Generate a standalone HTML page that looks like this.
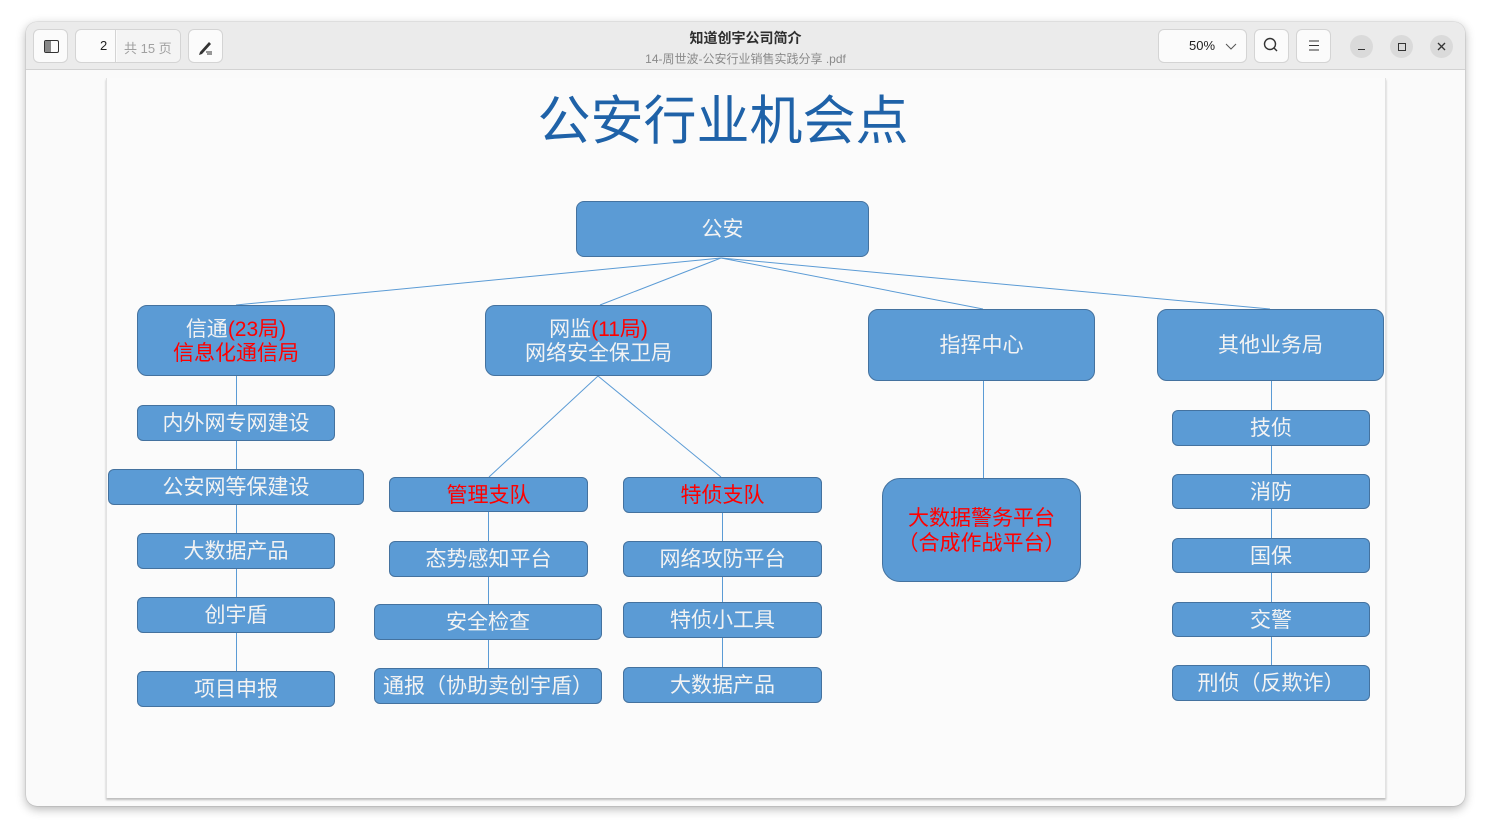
<!DOCTYPE html>
<html><head><meta charset="utf-8">
<style>
*{margin:0;padding:0;box-sizing:border-box;}
html,body{width:1491px;height:835px;background:#ffffff;overflow:hidden;font-family:"Liberation Sans","Noto Sans CJK SC",sans-serif;}
.win{position:absolute;left:26px;top:22px;width:1439px;height:784px;border-radius:11px;background:#fafafa;box-shadow:0 3px 10px rgba(0,0,0,0.3),0 0 1px rgba(0,0,0,0.4);overflow:hidden;}
.tb{position:absolute;left:0;top:0;width:1439px;height:48px;background:#ebebeb;border-bottom:1px solid #d2d2d2;}
.btn{position:absolute;top:7px;height:34px;background:#fbfbfb;border:1px solid #d4d4d4;border-radius:6px;}
.circ{position:absolute;top:13px;width:23px;height:23px;border-radius:50%;background:#dadada;}
.t1{position:absolute;left:0;width:1439px;top:6px;text-align:center;font-size:14px;font-weight:bold;color:#2e2e2e;}
.t2{position:absolute;left:0;width:1439px;top:28px;text-align:center;font-size:12px;color:#8a8a8a;}
.page{position:absolute;left:80px;top:56px;width:1280px;height:720px;background:#fbfbfb;border-left:1px solid #e2e2e2;border-right:1px solid #e2e2e2;box-shadow:0 2px 2px rgba(0,0,0,0.25);}
.b{position:absolute;background:#5b9bd5;border:1px solid #44729f;border-radius:6px;color:#f3f3f3;font-size:21px;display:flex;align-items:center;justify-content:center;text-align:center;line-height:25px;white-space:nowrap;padding-top:1px;}
.r{color:#ff0000;}
.title{position:absolute;left:0;width:1446px;top:79px;text-align:center;font-size:53px;color:#1f62a8;}
</style></head><body>
<div class="win">
  <div class="tb">
    <div class="btn" style="left:7px;width:35px;">
      <div style="position:absolute;left:10px;top:10px;width:15px;height:13px;border:1.6px solid #333;border-radius:2px;"></div>
      <div style="position:absolute;left:11px;top:11px;width:6px;height:11px;background:#888;"></div>
    </div>
    <div class="btn" style="left:49px;width:106px;">
      <div style="position:absolute;left:39px;top:0;width:1px;height:32px;background:#d4d4d4;"></div>
      <div style="position:absolute;left:24px;top:8px;font-size:13px;color:#222;">2</div>
      <div style="position:absolute;left:41px;top:0;width:63px;height:32px;background:#f4f4f4;border-radius:0 5px 5px 0;"></div>
      <div style="position:absolute;left:48px;top:8px;font-size:13px;color:#a0a0a0;">共 15 页</div>
    </div>
    <div class="btn" style="left:162px;width:35px;">
      <svg width="33" height="32" style="position:absolute;left:0;top:0"><path d="M11 22 L20 12 L22 14 L13 24 L10 25 Z" fill="#333"/><line x1="17" y1="22" x2="23" y2="22" stroke="#333" stroke-width="1"/><line x1="18" y1="24" x2="23" y2="24" stroke="#333" stroke-width="1"/></svg>
    </div>
    <div class="t1">知道创宇公司简介</div>
    <div class="t2">14-周世波-公安行业销售实践分享 .pdf</div>
    <div class="btn" style="left:1132px;width:89px;">
      <div style="position:absolute;left:30px;top:8px;font-size:13px;color:#222;">50%</div>
      <svg width="12" height="8" style="position:absolute;left:66px;top:13px"><path d="M1 1 L6 6 L11 1" fill="none" stroke="#555" stroke-width="1"/></svg>
    </div>
    <div class="btn" style="left:1228px;width:35px;">
      <svg width="33" height="32" style="position:absolute;left:0;top:0"><circle cx="15" cy="14" r="5.5" fill="none" stroke="#333" stroke-width="1.4"/><line x1="19" y1="18" x2="22" y2="21" stroke="#333" stroke-width="1.4"/></svg>
    </div>
    <div class="btn" style="left:1270px;width:35px;">
      <svg width="33" height="32" style="position:absolute;left:0;top:0"><line x1="12" y1="11" x2="22" y2="11" stroke="#333"/><line x1="12" y1="15.5" x2="22" y2="15.5" stroke="#333"/><line x1="12" y1="20" x2="22" y2="20" stroke="#333"/></svg>
    </div>
    <div class="circ" style="left:1324px;"><div style="position:absolute;left:8px;top:14px;width:7px;height:1.3px;background:#333;"></div></div>
    <div class="circ" style="left:1364px;"><div style="position:absolute;left:7.5px;top:7.5px;width:8px;height:8px;border:1.3px solid #333;"></div></div>
    <div class="circ" style="left:1404px;"><svg width="23" height="23" style="position:absolute;left:0;top:0"><line x1="8" y1="8" x2="15" y2="15" stroke="#333" stroke-width="1.3"/><line x1="15" y1="8" x2="8" y2="15" stroke="#333" stroke-width="1.3"/></svg></div>
  </div>
  <div class="page"></div>
</div>

<svg width="1491" height="835" style="position:absolute;left:0;top:0">
  <g stroke="#5b9bd5" stroke-width="1" fill="none">
    <line x1="721" y1="258" x2="236" y2="305"/>
    <line x1="721" y1="258" x2="600" y2="305"/>
    <line x1="721" y1="258" x2="983" y2="309"/>
    <line x1="721" y1="258" x2="1270" y2="309"/>
    <line x1="236.5" y1="376" x2="236.5" y2="672"/>
    <line x1="598" y1="376" x2="489" y2="477"/>
    <line x1="598" y1="376" x2="721" y2="477"/>
    <line x1="488.5" y1="512" x2="488.5" y2="668"/>
    <line x1="722.5" y1="513" x2="722.5" y2="667"/>
    <line x1="983.5" y1="380" x2="983.5" y2="478"/>
    <line x1="1271.5" y1="380" x2="1271.5" y2="665"/>
  </g>
</svg>

<div class="title">公安行业机会点</div>

<div class="b" style="left:576px;top:201px;width:293px;height:56px;border-radius:8px;">公安</div>

<div class="b" style="left:137px;top:305px;width:198px;height:71px;border-radius:10px;flex-direction:column;line-height:24px;padding-top:2px;"><div>信通<span class="r">(23局)</span></div><div class="r">信息化通信局</div></div>
<div class="b" style="left:485px;top:305px;width:227px;height:71px;border-radius:10px;flex-direction:column;line-height:24px;padding-top:2px;"><div>网监<span class="r">(11局)</span></div><div>网络安全保卫局</div></div>
<div class="b" style="left:868px;top:309px;width:227px;height:72px;border-radius:10px;">指挥中心</div>
<div class="b" style="left:1157px;top:309px;width:227px;height:72px;border-radius:10px;">其他业务局</div>

<div class="b" style="left:137px;top:405px;width:198px;height:36px;">内外网专网建设</div>
<div class="b" style="left:108px;top:469px;width:256px;height:36px;">公安网等保建设</div>
<div class="b" style="left:137px;top:533px;width:198px;height:36px;">大数据产品</div>
<div class="b" style="left:137px;top:597px;width:198px;height:36px;">创宇盾</div>
<div class="b" style="left:137px;top:671px;width:198px;height:36px;">项目申报</div>

<div class="b r" style="left:389px;top:477px;width:199px;height:35px;color:#ff0000;">管理支队</div>
<div class="b" style="left:389px;top:541px;width:199px;height:36px;">态势感知平台</div>
<div class="b" style="left:374px;top:604px;width:228px;height:36px;">安全检查</div>
<div class="b" style="left:374px;top:668px;width:228px;height:36px;">通报（协助卖创宇盾）</div>

<div class="b r" style="left:623px;top:477px;width:199px;height:36px;color:#ff0000;">特侦支队</div>
<div class="b" style="left:623px;top:541px;width:199px;height:36px;">网络攻防平台</div>
<div class="b" style="left:623px;top:602px;width:199px;height:36px;">特侦小工具</div>
<div class="b" style="left:623px;top:667px;width:199px;height:36px;">大数据产品</div>

<div class="b" style="left:882px;top:478px;width:199px;height:104px;border-radius:18px;flex-direction:column;color:#ff0000;line-height:25px;"><div>大数据警务平台</div><div>（合成作战平台）</div></div>

<div class="b" style="left:1172px;top:410px;width:198px;height:36px;">技侦</div>
<div class="b" style="left:1172px;top:474px;width:198px;height:35px;">消防</div>
<div class="b" style="left:1172px;top:538px;width:198px;height:35px;">国保</div>
<div class="b" style="left:1172px;top:602px;width:198px;height:35px;">交警</div>
<div class="b" style="left:1172px;top:665px;width:198px;height:36px;">刑侦（反欺诈）</div>

</body></html>
